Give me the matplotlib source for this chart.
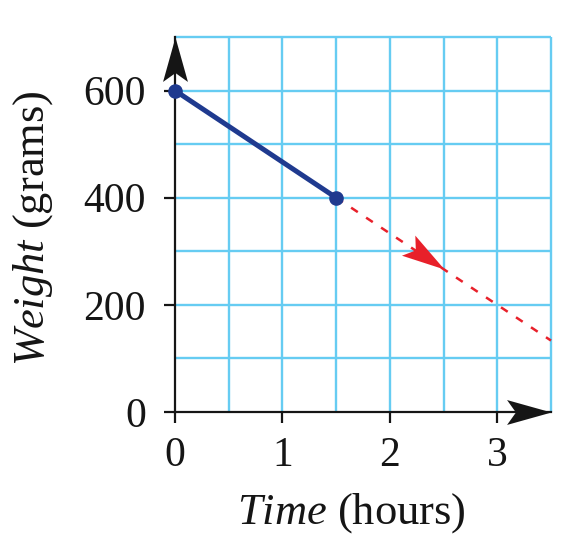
"""
Weight of a sample over time: measured segment and dashed projection
"""
import numpy as np
import matplotlib
matplotlib.use("Agg")
import matplotlib.pyplot as plt
from matplotlib.path import Path
from matplotlib.markers import MarkerStyle
from matplotlib.transforms import Affine2D

# Data
measured_time = [0.0, 1.5]          # hours
measured_weight = [600, 400]        # grams
projected_time = [1.5, 3.5]
projected_weight = [400, 400 - 2.0 * 400 / 3]   # same rate, carried on
arrow_time = 2.5                    # where the red arrowhead sits

x_ticks = [0, 1, 2, 3]
y_ticks = [0, 200, 400, 600]
x_grid = [0.5, 1.0, 1.5, 2.0, 2.5, 3.0, 3.5]
y_grid = [100, 200, 300, 400, 500, 600, 700]
x_max = 3.5
y_max = 700

GRID = "#66ccf2"
BLUE = "#1f3a8f"
RED = "#e8202a"
INK = "#151515"

plt.rcParams["font.family"] = "Liberation Serif"
plt.rcParams["mathtext.fontset"] = "custom"
plt.rcParams["mathtext.rm"] = "Liberation Serif"
plt.rcParams["mathtext.it"] = "Liberation Serif:italic"

fig = plt.figure(figsize=(5.81, 5.57), dpi=100)
ax = fig.add_axes([175 / 581, 1 - 412 / 557, 376 / 581, 375 / 557])
ax.set_xlim(0, x_max)
ax.set_ylim(0, y_max)

# Blue grid
ax.vlines(x_grid, 0, y_max, colors=GRID, lw=1.7, clip_on=False, zorder=1)
ax.hlines(y_grid, 0, x_max, colors=GRID, lw=1.7, clip_on=False, zorder=1)

# Axes as black arrows
for side in ["top", "right"]:
    ax.spines[side].set_visible(False)
for side in ["left", "bottom"]:
    ax.spines[side].set_linewidth(1.6)
    ax.spines[side].set_color(INK)
    ax.spines[side].set_zorder(3)

head = Path([(0, 0), (-1, 0.28), (-0.8, 0), (-1, -0.28), (0, 0)],
            [Path.MOVETO, Path.LINETO, Path.LINETO, Path.LINETO, Path.CLOSEPOLY])


def arrow_marker(angle):
    return MarkerStyle(head, transform=Affine2D().rotate_deg(angle))


ax.plot([x_max], [0], marker=arrow_marker(0), ms=64, color=INK,
        mec="none", clip_on=False, zorder=4)
ax.plot([0], [y_max], marker=arrow_marker(90), ms=64, color=INK,
        mec="none", clip_on=False, zorder=4)

# Projection (dashed red) with arrowhead along its direction
ax.plot(projected_time, projected_weight, color=RED, lw=1.8,
        dashes=(3.2, 4.0), zorder=5, clip_on=False)
p0 = ax.transData.transform((projected_time[0], projected_weight[0]))
p1 = ax.transData.transform((projected_time[1], projected_weight[1]))
angle = np.degrees(np.arctan2(p1[1] - p0[1], p1[0] - p0[0]))
arrow_weight = np.interp(arrow_time, projected_time, projected_weight)
ax.plot([arrow_time], [arrow_weight], marker=arrow_marker(angle), ms=62,
        color=RED, mec="none", zorder=6)

# Measured segment (solid blue)
ax.plot(measured_time, measured_weight, color=BLUE, lw=3.6,
        marker="o", ms=9.5, zorder=7, clip_on=False)

# Ticks
ax.set_xticks(x_ticks)
ax.set_yticks(y_ticks)
ax.tick_params(axis="both", direction="out", length=8, width=1.6,
               labelsize=30, colors=INK)
ax.tick_params(axis="x", pad=10)
ax.tick_params(axis="y", pad=13)

ax.text(0.47, -0.27, r"$\mathit{Time}$ (hours)", transform=ax.transAxes,
        ha="center", va="center", fontsize=32, color=INK)
ax.text(-0.378, 0.49, r"$\mathit{Weight}$ (grams)", transform=ax.transAxes,
        ha="center", va="center", rotation=90, fontsize=32, color=INK)

fig.savefig("out.png", dpi=100)
